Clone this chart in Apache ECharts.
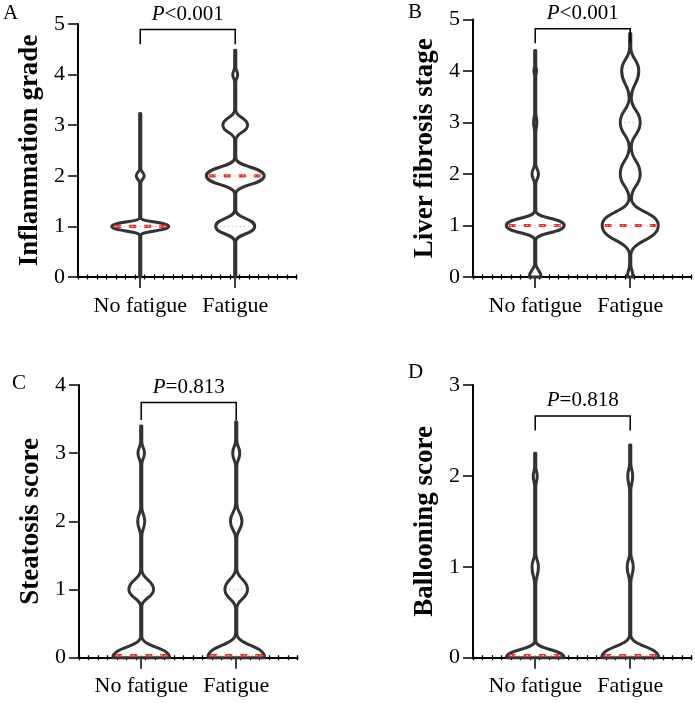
<!DOCTYPE html>
<html>
<head>
<meta charset="utf-8">
<script src="https://cdn.jsdelivr.net/npm/echarts@6/dist/echarts.min.js"></script>
<style>
html,body{margin:0;padding:0;background:#fff;}
#chart{width:695px;height:703px;}
</style>
</head>
<body>
<div id="chart"></div>
<script>
// ---------- data ----------
const categories = ['No fatigue', 'Fatigue'];
const panelLetters = ['A', 'B', 'C', 'D'];
const yTitles = ['Inflammation grade', 'Liver fibrosis stage', 'Steatosis score', 'Ballooning score'];
const yMaxes = [5, 5, 4, 3];
const pValues = ['<0.001', '<0.001', '=0.813', '=0.818'];
const bracketTop = [4.89, 4.82, 3.745, 2.66];
const bracketDrop = [4.6, 4.54, 3.485, 2.5];

// violin outlines: [y value, half width in category units] at local extrema
const inflNoFatigue = [[0,0.006],[0.82,0.006],[1,0.30],[1.17,0.006],[1.86,0.006],[2,0.042],[2.14,0.006],[3.23,0.006]];
const inflFatigue = [[0,0.006],[0.70,0.006],[1,0.205],[1.32,0.006],[1.65,0.006],[2,0.305],[2.35,0.006],[2.71,0.006],[3,0.13],[3.3,0.006],[3.85,0.006],[4,0.026],[4.15,0.006],[4.48,0.006]];
const fibNoFatigue = [[0,0.063],[0.26,0.006],[0.72,0.006],[1,0.305],[1.28,0.006],[1.8,0.006],[2,0.034],[2.2,0.006],[2.8,0.006],[3,0.017],[3.2,0.006],[3.9,0.006],[4,0.014],[4.1,0.006],[4.4,0.006]];
const fibFatigue = [[0,0.03],[0.25,0.006],[0.42,0.006],[1,0.295],[1.53,0.013],[2,0.105],[2.52,0.011],[3,0.105],[3.48,0.011],[4,0.09],[4.46,0.006],[4.73,0.006]];
const steaNoFatigue = [[0,0.30],[0.31,0.006],[0.75,0.006],[1,0.13],[1.29,0.006],[1.78,0.006],[2,0.037],[2.21,0.006],[2.83,0.006],[3,0.034],[3.17,0.006],[3.4,0.006]];
const steaFatigue = [[0,0.30],[0.36,0.006],[0.72,0.006],[1,0.119],[1.31,0.006],[1.75,0.006],[2,0.061],[2.26,0.006],[2.8,0.006],[3,0.037],[3.19,0.006],[3.46,0.006]];
const ballNoFatigue = [[0,0.305],[0.18,0.006],[0.8,0.006],[1,0.034],[1.15,0.006],[1.88,0.006],[2,0.021],[2.1,0.006],[2.25,0.006]];
const ballFatigue = [[0,0.30],[0.25,0.006],[0.82,0.006],[1,0.032],[1.15,0.006],[1.83,0.006],[2,0.026],[2.14,0.006],[2.34,0.006]];

// [median, q1, q3]
const inflStats = [[1,1,1],[2,1,2]];
const fibStats = [[1,1,1],[1,1,3]];
const steaStats = [[0,0,1],[0,0,1]];
const ballStats = [[0,0,0],[0,0,0]];

const violins = [[inflNoFatigue, inflFatigue],[fibNoFatigue, fibFatigue],[steaNoFatigue, steaFatigue],[ballNoFatigue, ballFatigue]];
const stats = [inflStats, fibStats, steaStats, ballStats];

// ---------- layout ----------
const FONT = "'Liberation Serif', 'Times New Roman', serif";
const catPos = [0.655, 1.655];
const xMax = 2.3;
const grids = [
  {left: 78, top: 24, width: 218.5, height: 253},
  {left: 473, top: 19.5, width: 218.5, height: 257.5},
  {left: 79, top: 385, width: 218.5, height: 272.7},
  {left: 473, top: 385, width: 218.5, height: 272.7}
];
const letterPos = [[3, 3], [408, 2], [12, 373], [408, 362]];
const K = 0.5;

function halfWidthAt(knots, y) {
  for (let i = 0; i < knots.length; i++) if (Math.abs(knots[i][0] - y) < 1e-9) return knots[i][1];
  for (let i = 1; i < knots.length; i++) {
    if (y >= knots[i-1][0] && y <= knots[i][0]) {
      const t = (y - knots[i-1][0]) / (knots[i][0] - knots[i-1][0]);
      return knots[i-1][1] + t * (knots[i][1] - knots[i-1][1]);
    }
  }
  return 0;
}

function violinRender(panel) {
  return function (params, api) {
    const idx = params.dataIndex;
    const knots = violins[panel][idx];
    const st = stats[panel][idx];
    const cx = api.coord([catPos[idx], 0])[0];
    const sx = api.size([1, 0])[0];
    const Y = v => api.coord([0, v])[1];
    const n = knots.length;
    let d = '';
    d += 'M ' + (cx + knots[0][1] * sx) + ' ' + Y(knots[0][0]);
    for (let i = 1; i < n; i++) {
      const a = knots[i-1], b = knots[i];
      const Ya = Y(a[0]), Yb = Y(b[0]);
      const Xa = cx + a[1] * sx, Xb = cx + b[1] * sx;
      const dy = Yb - Ya;
      d += ' C ' + Xa + ' ' + (Ya + K * dy) + ' ' + Xb + ' ' + (Yb - K * dy) + ' ' + Xb + ' ' + Yb;
    }
    d += ' L ' + (cx - knots[n-1][1] * sx) + ' ' + Y(knots[n-1][0]);
    for (let i = n - 1; i > 0; i--) {
      const a = knots[i], b = knots[i-1];
      const Ya = Y(a[0]), Yb = Y(b[0]);
      const Xa = cx - a[1] * sx, Xb = cx - b[1] * sx;
      const dy = Yb - Ya;
      d += ' C ' + Xa + ' ' + (Ya + K * dy) + ' ' + Xb + ' ' + (Yb - K * dy) + ' ' + Xb + ' ' + Yb;
    }
    d += ' Z';
    const children = [{
      type: 'path',
      shape: {pathData: d},
      style: {fill: '#fff', stroke: '#333', lineWidth: 3, lineJoin: 'round', lineCap: 'round'}
    }];
    const med = st[0];
    const wm = Math.max(halfWidthAt(knots, med) * sx - 2.5, 0);
    const ym = Y(med) - (med === 0 ? 2.2 : 0);
    children.push({
      type: 'line',
      shape: {x1: cx - wm, y1: ym, x2: cx + wm, y2: ym},
      style: {stroke: '#e8322e', lineWidth: 3.2, lineDash: [7, 8]}
    });
    [st[1], st[2]].forEach(q => {
      const wq = Math.max(halfWidthAt(knots, q) * sx - 4, 0);
      const yq = Y(q) - (q === 0 ? 2.2 : 0);
      children.push({
        type: 'line',
        shape: {x1: cx - wq, y1: yq, x2: cx + wq, y2: yq},
        style: {stroke: '#c8c8c8', lineWidth: 1, lineDash: [1.5, 2.5]}
      });
    });
    return {type: 'group', children: children};
  };
}

function bracketRender(panel) {
  return function (params, api) {
    const x1 = api.coord([catPos[0], 0])[0];
    const x2 = api.coord([catPos[1], 0])[0];
    const yt = api.coord([0, bracketTop[panel]])[1];
    const yd = api.coord([0, bracketDrop[panel]])[1];
    return {
      type: 'group',
      children: [
        {type: 'polyline', shape: {points: [[x1, yd], [x1, yt], [x2, yt], [x2, yd]]},
         style: {fill: null, stroke: '#000', lineWidth: 1.5}},
        {type: 'text', x: (x1 + x2) / 2, y: yt - 15,
         style: {text: '{i|P}{n|' + pValues[panel] + '}', align: 'center', verticalAlign: 'middle',
           rich: {i: {fontFamily: FONT, fontStyle: 'italic', fontSize: 21, fill: '#000'},
                  n: {fontFamily: FONT, fontSize: 21, fill: '#000'}}}}
      ]
    };
  };
}

const xAxes = [], yAxes = [], series = [];
grids.forEach((g, p) => {
  xAxes.push({
    type: 'value', gridIndex: p, min: 0, max: xMax, position: 'bottom',
    axisLine: {show: true, onZero: false, lineStyle: {color: '#000', width: 2}},
    axisTick: {show: true, customValues: catPos, length: 11, lineStyle: {color: '#000', width: 1.5}},
    axisLabel: {show: true, customValues: catPos, margin: 18, fontFamily: FONT, fontSize: 22, color: '#000',
      formatter: v => categories[Math.abs(v - catPos[0]) < Math.abs(v - catPos[1]) ? 0 : 1]},
    splitLine: {show: false}
  });
  xAxes.push({
    type: 'value', gridIndex: p, min: 0, max: xMax, interval: 0.1, position: 'bottom',
    axisLine: {show: false},
    axisTick: {show: true, length: 2.5, lineStyle: {color: '#000', width: 1.3}},
    axisLabel: {show: false}, splitLine: {show: false}
  });
  xAxes.push({
    type: 'value', gridIndex: p, min: 0, max: xMax, interval: 0.1, position: 'bottom',
    axisLine: {show: false},
    axisTick: {show: true, inside: true, length: 2.5, lineStyle: {color: '#000', width: 1.3}},
    axisLabel: {show: false}, splitLine: {show: false}
  });
  yAxes.push({
    type: 'value', gridIndex: p, min: 0, max: yMaxes[p], interval: 1,
    name: yTitles[p], nameLocation: 'middle', nameGap: 34,
    nameTextStyle: {fontFamily: FONT, fontSize: 27, fontWeight: 'bold', color: '#000'},
    axisLine: {show: true, lineStyle: {color: '#000', width: 2}},
    axisTick: {show: true, length: 10, lineStyle: {color: '#000', width: 1.5}},
    axisLabel: {fontFamily: FONT, fontSize: 22, color: '#000', margin: 13},
    splitLine: {show: false}
  });
  series.push({
    type: 'custom', xAxisIndex: p * 3, yAxisIndex: p,
    data: [[catPos[0], 0], [catPos[1], 0]],
    renderItem: violinRender(p), z: 3, silent: true
  });
  series.push({
    type: 'custom', xAxisIndex: p * 3, yAxisIndex: p,
    data: [[catPos[0], bracketTop[p]]],
    renderItem: bracketRender(p), z: 4, silent: true
  });
});

const chart = echarts.init(document.getElementById('chart'), null, {renderer: 'canvas'});
chart.setOption({
  animation: false,
  backgroundColor: '#fff',
  grid: grids.map(g => Object.assign({containLabel: false}, g)),
  xAxis: xAxes,
  yAxis: yAxes,
  series: series,
  graphic: panelLetters.map((t, i) => ({
    type: 'text', left: letterPos[i][0], top: letterPos[i][1],
    style: {text: t, fontFamily: FONT, fontSize: 21, fill: '#000'}
  }))
});
</script>
</body>
</html>
